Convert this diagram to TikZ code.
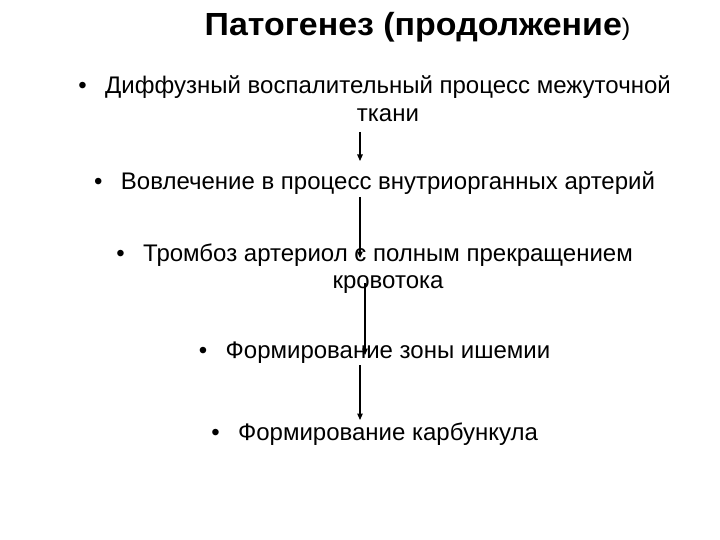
\documentclass[tikz,border=0pt]{standalone}
\usepackage{fontspec}
\usepackage{graphicx}
\setmainfont{Liberation Sans}
\usetikzlibrary{arrows.meta}
\tikzset{
  txt/.style={inner sep=0pt, anchor=base, font=\fontsize{24}{28}\selectfont},
  bul/.style={inner sep=0pt, anchor=base east, font=\fontsize{24}{28}\selectfont},
  arr/.style={line width=1.2pt, -{Triangle[length=6.5pt,width=5.5pt]}},
}
\begin{document}
\begin{tikzpicture}[x=1pt,y=-1pt]
\useasboundingbox[fill=white] (0,0) rectangle (720,540);
\node[inner sep=0pt, anchor=base] (title) at (417.5,36)
  {\scalebox{1.06}[1]{\fontsize{32}{36}\selectfont\bfseries Патогенез (продолжение\fontsize{24}{28}\selectfont\mdseries)}};
\node[txt] (l1) at (388,94) {Диффузный воспалительный процесс межуточной};
\node[bul] (b1) at ([xshift=-18pt]l1.base west) {•};
\node[txt] (l1b) at (388,122) {ткани};
\node[txt] (l2) at (388,190) {Вовлечение в процесс внутриорганных артерий};
\node[bul] (b2) at ([xshift=-18pt]l2.base west) {•};
\node[txt] (l3) at (388,261) {Тромбоз артериол с полным прекращением};
\node[bul] (b3) at ([xshift=-18pt]l3.base west) {•};
\node[txt] (l3b) at (388,288) {кровотока};
\node[txt] (l4) at (388,358) {Формирование зоны ишемии};
\node[bul] (b4) at ([xshift=-18pt]l4.base west) {•};
\node[txt] (l5) at (388,440) {Формирование карбункула};
\node[bul] (b5) at ([xshift=-18pt]l5.base west) {•};
\coordinate (a1s) at (360,132); \coordinate (a1e) at (360,161);
\coordinate (a2s) at (360,197); \coordinate (a2e) at (360,258);
\coordinate (a3s) at (365,283); \coordinate (a3e) at (365,355);
\coordinate (a4s) at (360,365); \coordinate (a4e) at (360,420);
\draw[arr] (a1s) -- (a1e);
\draw[arr] (a2s) -- (a2e);
\draw[arr] (a3s) -- (a3e);
\draw[arr] (a4s) -- (a4e);
\end{tikzpicture}
\end{document}
